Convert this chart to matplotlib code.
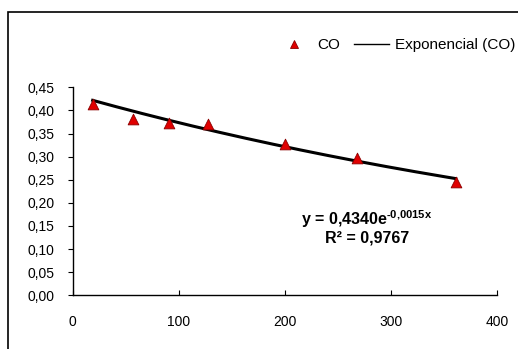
import numpy as np
import matplotlib
matplotlib.use("Agg")
import matplotlib.pyplot as plt
from matplotlib.patches import Rectangle
from matplotlib.lines import Line2D

plt.rcParams['font.family'] = ['Liberation Sans', 'DejaVu Sans']
plt.rcParams['mathtext.fontset'] = 'custom'
plt.rcParams['mathtext.rm'] = 'Liberation Sans'
plt.rcParams['mathtext.bf'] = 'Liberation Sans:bold'
plt.rcParams['mathtext.it'] = 'Liberation Sans:italic'

time = [19, 57, 91, 128, 200, 268, 361]
co = [0.414, 0.381, 0.373, 0.370, 0.327, 0.298, 0.245]
fit_a = 0.4340
fit_b = -0.0015
eq_label = "y = 0,4340e$^{\\mathbf{\u2010 0{,}0015x}}$"
r2_label = "R² = 0,9767"
xticks = [0, 100, 200, 300, 400]
yticks = [0.00, 0.05, 0.10, 0.15, 0.20, 0.25, 0.30, 0.35, 0.40, 0.45]

fig = plt.figure(figsize=(5.18, 3.49), dpi=100)
fig.patch.set_facecolor('white')
# outer chart border (cropped on right/bottom)
fig.patches.append(Rectangle((8/518, -0.1), 1.2, 1 - 12/349 + 0.1, transform=fig.transFigure,
                             fill=False, edgecolor='black', linewidth=1.2, figure=fig))

ax = fig.add_axes([72.5/518, 1 - 295.3/349, (497 - 72.5)/518, (295.3 - 87.3)/349])
xs = np.linspace(min(time), max(time), 200)
ax.plot(xs, fit_a * np.exp(fit_b * xs), color='black', lw=2.2, zorder=2)
ax.scatter(time, co, marker='^', s=60, color='#e00000', edgecolor='#8b0000', linewidth=0.6, zorder=3)

ax.set_xlim(0, 400)
ax.set_ylim(0, 0.45)
ax.set_xticks(xticks)
ax.set_xticklabels([str(v) for v in xticks])
ax.set_yticks(yticks)
ax.set_yticklabels([f"{v:.2f}".replace('.', ',') for v in yticks])
for s in ['top', 'right']:
    ax.spines[s].set_visible(False)
for s in ['left', 'bottom']:
    ax.spines[s].set_linewidth(1.0)
ax.tick_params(axis='y', direction='out', length=3.6, labelsize=10, pad=9.5)
ax.tick_params(axis='x', direction='in', length=3.6, labelsize=10, pad=14)

ax.text(0.694, 0.368, eq_label, transform=ax.transAxes, ha='center',
        va='center', fontsize=11.5, fontweight='bold')
ax.text(0.694, 0.275, r2_label, transform=ax.transAxes, ha='center', va='center',
        fontsize=11.5, fontweight='bold')

handles = [Line2D([], [], marker='^', linestyle='none', color='#e00000', markeredgecolor='#8b0000',
                  markersize=6, markeredgewidth=0.6),
           Line2D([], [], color='black', lw=1)]
fig.legend(handles, ['CO', 'Exponencial (CO)'], loc='center', bbox_to_anchor=(396/518, 1 - 45/349),
           ncol=2, frameon=False, fontsize=11, handlelength=2.3, columnspacing=0.9,
           handletextpad=0.4, borderpad=0, borderaxespad=0)

fig.savefig('out.png', dpi=100)
